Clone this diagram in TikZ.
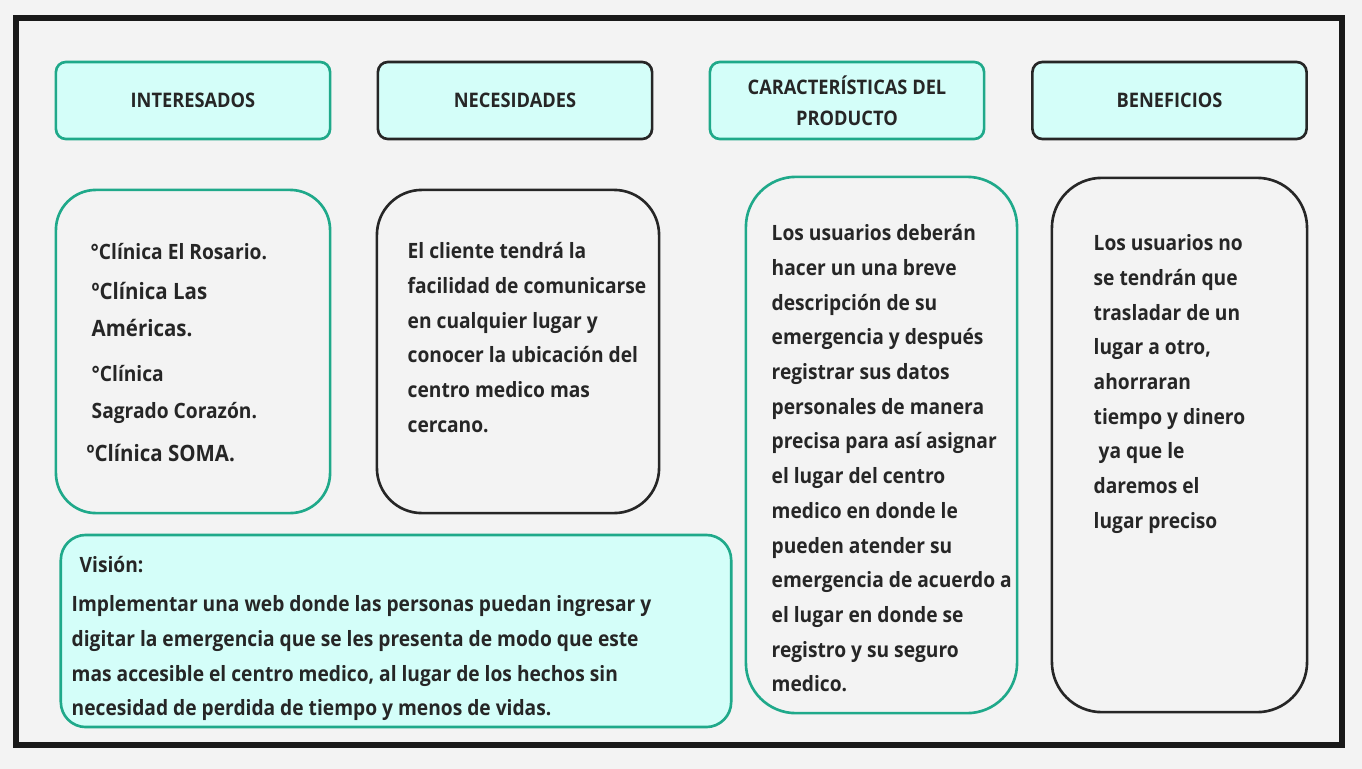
\documentclass[tikz,border=0pt]{standalone}
\usepackage{fontspec}
\setmainfont{Open Sans}[FakeStretch=0.91]
\definecolor{verdeazul}{HTML}{1FA98A}
\definecolor{celeste}{HTML}{D4FEF9}
\definecolor{fondo}{HTML}{F3F3F3}
\definecolor{tinta}{HTML}{262626}
\newcommand{\cabecera}{\fontsize{5.7}{8.8}\selectfont\bfseries}
\newcommand{\cuerpo}{\fontsize{6}{9.87}\selectfont\bfseries}
\newcommand{\lista}{\fontsize{6.4}{10.4}\selectfont\bfseries}
\newcommand{\listachica}{\fontsize{6}{10.4}\selectfont\bfseries}

\begin{document}
\begin{tikzpicture}[x=0.01cm, y=-0.01cm,
    titulo/.style={draw, fill=celeste, rounded corners=0.1cm,
        minimum width=2.74cm, minimum height=0.77cm,
        line width=0.75pt, text=tinta, font=\cabecera,
        align=center, inner sep=0pt},
    panel/.style={draw, line width=0.75pt, inner sep=0pt},
    texto/.style={anchor=north west, align=left, inner sep=0pt,
        text=tinta, font=\cuerpo}
    ]
    \useasboundingbox (0,0) rectangle (1362,769);
    \fill[fondo] (0,0) rectangle (1362,769);
    \draw[line width=1.9pt, black!90] (16,18) rectangle (1342,745);

    % cabeceras
    \node[titulo, draw=verdeazul] (tInteresados) at (193,100.5) {INTERESADOS};
    \node[titulo, draw=black!85] (tNecesidades) at (515,100.5) {NECESIDADES};
    \node[titulo, draw=verdeazul] (tCaracteristicas) at (847,100.5) {CARACTERÍSTICAS DEL\\PRODUCTO};
    \node[titulo, draw=black!85] (tBeneficios) at (1169.5,100.5) {BENEFICIOS};

    % paneles
    \node[panel, draw=verdeazul, rounded corners=0.4cm,
        minimum width=2.74cm, minimum height=3.23cm] (pInteresados) at (193,351.5) {};
    \node[panel, draw=black!85, rounded corners=0.45cm,
        minimum width=2.82cm, minimum height=3.23cm] (pNecesidades) at (518,351.5) {};
    \node[panel, draw=verdeazul, rounded corners=0.5cm,
        minimum width=2.71cm, minimum height=5.36cm] (pCaracteristicas) at (881.5,445) {};
    \node[panel, draw=black!85, rounded corners=0.5cm,
        minimum width=2.55cm, minimum height=5.34cm] (pBeneficios) at (1179.5,445) {};
    \node[panel, draw=verdeazul, fill=celeste, rounded corners=0.25cm,
        minimum width=6.70cm, minimum height=1.92cm] (pVision) at (396,631) {};

    % textos
    \node[texto, font=\listachica] (iRosario) at (90,233.4) {\strut°Clínica El Rosario.};
    \node[texto, font=\lista] (iAmericas) at (91,273.4) {\strut ºClínica Las\\Américas.};
    \node[texto, font=\listachica] (iSagrado) at (91,355.4) {\strut°Clínica\\Sagrado Corazón.};
    \node[texto, font=\lista] (iSoma) at (86,435.4) {\strut ºClínica SOMA.};

    \node[texto] (xNecesidades) at (407,233.7) {\strut El cliente tendrá la\\
        facilidad de comunicarse\\en cualquier lugar y\\conocer la ubicación del\\
        centro medico mas\\cercano.};

    \node[texto] (xCaracteristicas) at (771,215.7) {\strut Los usuarios deberán\\
        hacer un una breve\\descripción de su\\emergencia y después\\
        registrar sus datos\\personales de manera\\precisa para así asignar\\
        el lugar del centro\\medico en donde le\\pueden atender su\\
        emergencia de acuerdo a\\el lugar en donde se\\registro y su seguro\\medico.};

    \node[texto] (xBeneficios) at (1093,225.7) {\strut Los usuarios no\\
        se tendrán que\\trasladar de un\\lugar a otro,\\ahorraran\\
        tiempo y dinero\\\ ya que le\\daremos el\\lugar preciso};

    \node[texto] (xVisionTitulo) at (79,547.7) {\strut Visión:};
    \node[texto] (xVision) at (71,586.7) {\strut Implementar una web donde las personas puedan ingresar y\\
        digitar la emergencia que se les presenta de modo que este\\
        mas accesible el centro medico, al lugar de los hechos sin\\
        necesidad de perdida de tiempo y menos de vidas.};
\end{tikzpicture}
\end{document}
